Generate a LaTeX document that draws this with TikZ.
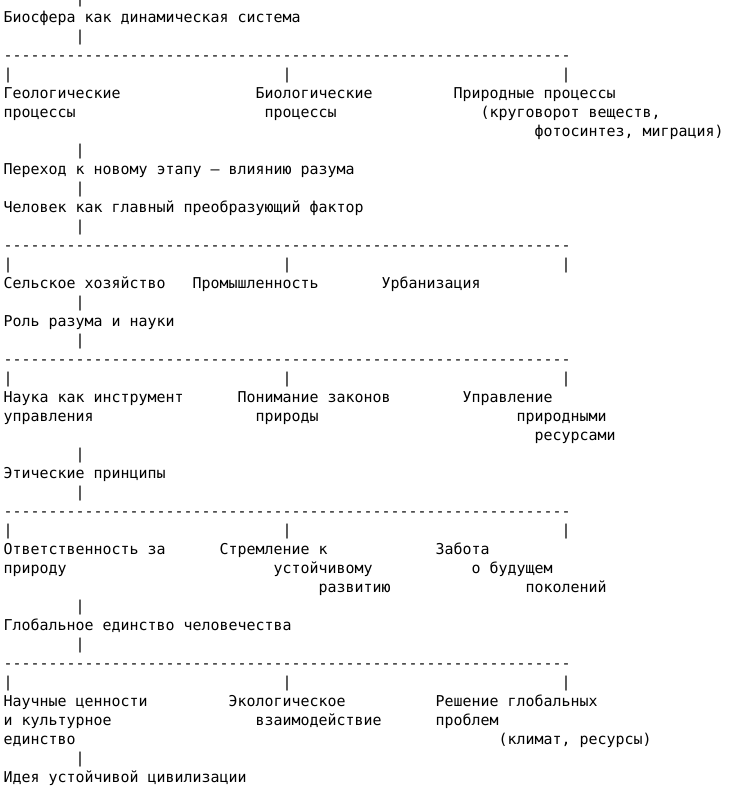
\documentclass[tikz,border=0pt]{standalone}
\usepackage{fontspec}
\setmonofont{DejaVu Sans Mono}
\usepackage{tikz}
\usetikzlibrary{positioning}

\begin{document}
\begin{tikzpicture}[
    ln/.style={anchor=base west,inner sep=0pt,outer sep=0pt,text=black,
      font=\ttfamily\fontsize{14.95}{19}\selectfont}]
  \useasboundingbox (0pt,0pt) rectangle (751pt,-797pt);
  \begin{scope}[shift={(3.6pt,-3.7pt)},x=9pt,y=-19pt]
  % trunk
  \foreach \r in {0,2,8,10,12,16,18,24,26,32,34,40}
    \node [ln] (v\r) at (8, \r) {|};
  % branch rows
  \foreach \r in {3,13,19,27,35}
    \node [ln] (dash\r) at (0, \r) {---------------------------------------------------------------};
  \foreach \r in {4,14,20,28,36} {
    \node [ln] (l\r) at (0, \r) {|};
    \node [ln] (m\r) at (31, \r) {|};
    \node [ln] (r\r) at (62, \r) {|};
  }
  \node [ln] (bio) at (0, 1) {Биосфера как динамическая система};
  \node [ln] (geo) at (0, 5) {Геологические};
  \node [ln] (geob) at (0, 6) {процессы};
  \node [ln] (biol) at (28, 5) {Биологические};
  \node [ln] (biolb) at (29, 6) {процессы};
  \node [ln] (nat) at (50, 5) {Природные процессы};
  \node [ln] (natb) at (53, 6) {(круговорот веществ,};
  \node [ln] (natc) at (59, 7) {фотосинтез, миграция)};
  \node [ln] (trans) at (0, 9) {Переход к новому этапу — влиянию разума};
  \node [ln] (man) at (0, 11) {Человек как главный преобразующий фактор};
  \node [ln] (agr) at (0, 15) {Сельское хозяйство};
  \node [ln] (ind) at (21, 15) {Промышленность};
  \node [ln] (urb) at (42, 15) {Урбанизация};
  \node [ln] (role) at (0, 17) {Роль разума и науки};
  \node [ln] (sci) at (0, 21) {Наука как инструмент};
  \node [ln] (scib) at (0, 22) {управления};
  \node [ln] (law) at (26, 21) {Понимание законов};
  \node [ln] (lawb) at (28, 22) {природы};
  \node [ln] (res) at (51, 21) {Управление};
  \node [ln] (resb) at (57, 22) {природными};
  \node [ln] (resc) at (59, 23) {ресурсами};
  \node [ln] (eth) at (0, 25) {Этические принципы};
  \node [ln] (resp) at (0, 29) {Ответственность за};
  \node [ln] (respb) at (0, 30) {природу};
  \node [ln] (sust) at (24, 29) {Стремление к};
  \node [ln] (sustb) at (30, 30) {устойчивому};
  \node [ln] (sustc) at (35, 31) {развитию};
  \node [ln] (care) at (48, 29) {Забота};
  \node [ln] (careb) at (52, 30) {о будущем};
  \node [ln] (carec) at (58, 31) {поколений};
  \node [ln] (glob) at (0, 33) {Глобальное единство человечества};
  \node [ln] (val) at (0, 37) {Научные ценности};
  \node [ln] (valb) at (0, 38) {и культурное};
  \node [ln] (valc) at (0, 39) {единство};
  \node [ln] (eco) at (25, 37) {Экологическое};
  \node [ln] (ecob) at (28, 38) {взаимодействие};
  \node [ln] (sol) at (48, 37) {Решение глобальных};
  \node [ln] (solb) at (48, 38) {проблем};
  \node [ln] (solc) at (55, 39) {(климат, ресурсы)};
  \node [ln] (idea) at (0, 41) {Идея устойчивой цивилизации};
  \end{scope}
\end{tikzpicture}
\end{document}
